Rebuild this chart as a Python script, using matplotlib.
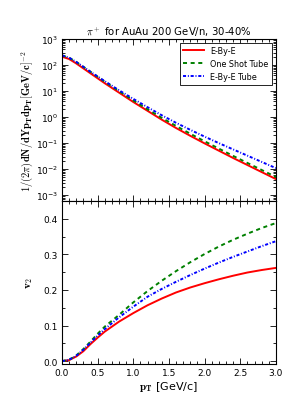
import numpy as np
import matplotlib
matplotlib.use("Agg")
import matplotlib.pyplot as plt
from matplotlib.ticker import FixedLocator, LogLocator, MultipleLocator, NullFormatter

# pT grid (GeV/c)
pt = [0.0, 0.1, 0.2, 0.3, 0.4, 0.5, 0.6, 0.8, 1.0, 1.2, 1.4, 1.6, 1.8,
      2.0, 2.2, 2.4, 2.6, 2.8, 3.0]

# log10 of spectra
log_spec_ebe = [2.32, 2.23, 2.06, 1.87, 1.68, 1.49, 1.30, 0.94, 0.58, 0.24,
                -0.10, -0.42, -0.72, -1.01, -1.29, -1.57, -1.84, -2.11, -2.38]
log_spec_one = [2.37, 2.28, 2.12, 1.93, 1.74, 1.55, 1.36, 1.00, 0.64, 0.30,
                -0.03, -0.34, -0.64, -0.93, -1.21, -1.49, -1.76, -2.03, -2.30]
log_spec_tube = [2.37, 2.28, 2.12, 1.93, 1.74, 1.56, 1.38, 1.03, 0.70, 0.38,
                 0.07, -0.22, -0.49, -0.75, -1.00, -1.24, -1.48, -1.72, -1.96]

# v2
v2_ebe = [0.0, 0.003, 0.013, 0.028, 0.048, 0.066, 0.083, 0.111, 0.135, 0.157,
          0.176, 0.193, 0.207, 0.219, 0.230, 0.240, 0.249, 0.256, 0.262]
v2_one = [0.0, 0.004, 0.016, 0.034, 0.055, 0.077, 0.097, 0.130, 0.165, 0.197,
          0.226, 0.253, 0.278, 0.301, 0.322, 0.341, 0.358, 0.374, 0.388]
v2_tube = [0.0, 0.004, 0.015, 0.032, 0.052, 0.072, 0.090, 0.123, 0.153, 0.181,
           0.203, 0.223, 0.242, 0.260, 0.277, 0.293, 0.308, 0.323, 0.337]

labels = ["E-By-E", "One Shot Tube", "E-By-E Tube"]
colors = ["red", "green", "blue"]
styles = ["-", (0, (2.9, 2.6)), (0, (2.2, 1.3, 0.7, 1.3))]
spec_ticks = [1e-3, 1e-2, 1e-1, 1e0, 1e1, 1e2, 1e3]

plt.rcParams["lines.scale_dashes"] = False
fs = 6.5

fig = plt.figure(figsize=(3.06, 4.06), dpi=100)
ax1 = fig.add_axes([0.2026, 0.5025, 0.699, 0.399])
ax2 = fig.add_axes([0.2026, 0.101, 0.699, 0.4015])

spectra = [log_spec_ebe, log_spec_one, log_spec_tube]
flows = [v2_ebe, v2_one, v2_tube]

for s, c, ls, lab in zip(spectra, colors, styles, labels):
    ax1.plot(pt, 10 ** np.array(s), color=c, linestyle=ls, lw=1.4, label=lab)
for v, c, ls in zip(flows, colors, styles):
    ax2.plot(pt, v, color=c, linestyle=ls, lw=1.4)

ax1.set_yscale("log")
ax1.set_xlim(0, 3)
ax1.set_ylim(6e-4, 1e3)
ax1.xaxis.set_major_locator(MultipleLocator(0.5))
ax1.xaxis.set_minor_locator(MultipleLocator(0.1))
ax1.xaxis.set_major_formatter(NullFormatter())
ax1.yaxis.set_major_locator(FixedLocator(spec_ticks))
ax1.yaxis.set_minor_locator(LogLocator(base=10, subs=np.arange(2, 10), numticks=20))
ax1.yaxis.set_minor_formatter(NullFormatter())

ax2.set_xlim(0, 3)
ax2.set_ylim(-0.008, 0.45)
ax2.xaxis.set_major_locator(MultipleLocator(0.5))
ax2.xaxis.set_minor_locator(MultipleLocator(0.1))
ax2.yaxis.set_major_locator(FixedLocator([0.0, 0.1, 0.2, 0.3, 0.4]))
ax2.yaxis.set_minor_locator(MultipleLocator(0.05))

for ax in (ax1, ax2):
    ax.tick_params(which="both", direction="in", top=True, right=True,
                   labelsize=fs, width=0.6, pad=3)
    ax.tick_params(which="major", length=4)
    ax.tick_params(which="minor", length=2)
    for sp in ax.spines.values():
        sp.set_linewidth(0.8)

ax1.set_title(r"$\pi^+$ for AuAu 200 GeV/n, 30-40%", fontsize=7.3,
              math_fontfamily="cm", pad=3)
ax1.set_ylabel(r"$1/(2\pi)\mathbf{dN/dYp_Tdp_T[GeV/c]^{-2}}$", fontsize=7.6,
               math_fontfamily="cm", labelpad=0)
ax2.set_ylabel(r"$\mathbf{v_2}$", fontsize=8, math_fontfamily="cm", labelpad=6)
ax2.set_xlabel(r"$\mathbf{p_T}$ [GeV/c]", fontsize=8, math_fontfamily="cm",
               labelpad=1)

leg = ax1.legend(loc="upper right", fontsize=5.8, fancybox=False,
                 framealpha=1, edgecolor="black", handlelength=2.6,
                 borderaxespad=0.5)
leg.get_frame().set_linewidth(0.6)

fig.savefig("out.png", dpi=100)
